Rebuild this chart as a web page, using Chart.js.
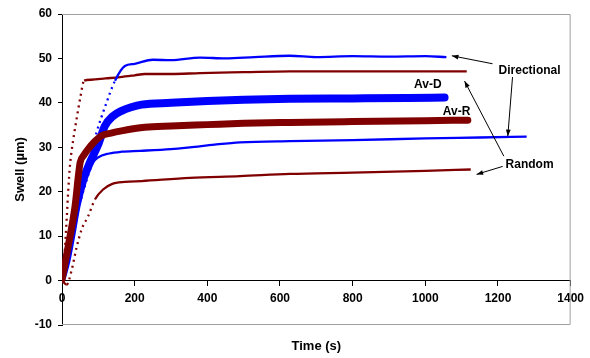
<!DOCTYPE html>
<html>
<head>
<meta charset="utf-8">
<script src="https://cdn.jsdelivr.net/npm/chart.js@4"></script>
<style>
  html, body { margin: 0; padding: 0; background: #fff; }
  #wrap { width: 590px; height: 358px; }
</style>
</head>
<body>
<div id="wrap"><canvas id="swellChart"></canvas></div>
<script>
// readings from the plot: time (s) and swell (um) for each sample
var dirTopTime  = [0, 20, 40, 60, 80, 95, 118, 146, 173, 200, 250, 300, 380, 450, 530, 627, 700, 800, 900, 1000, 1058];
var dirTopSwell = [0, 7, 15, 22, 28.5, 33.3, 39, 45, 48.3, 48.8, 49.7, 49.6, 50.2, 50, 50.3, 50.6, 50.3, 50.5, 50.4, 50.5, 50.3];

var ranTopTime  = [0, 5, 13, 17, 22, 27, 40, 50, 61, 80, 120, 160, 200, 228, 300, 380, 500, 627, 800, 1000, 1114];
var ranTopSwell = [0, 3.5, 14, 20, 26, 29.5, 36.3, 41, 45, 45.2, 45.5, 45.8, 46.2, 46.5, 46.5, 46.7, 46.9, 47.1, 47.1, 47.1, 47.1];

var avDTime  = [0, 13, 27, 40, 59, 77, 99, 118, 140, 164, 190, 219, 300, 400, 500, 627, 800, 950, 1053];
var avDSwell = [0.7, 4.7, 10.8, 16.8, 22.8, 26.6, 30.5, 34.8, 37, 38.2, 39, 39.6, 40, 40.4, 40.7, 40.9, 41, 41.1, 41.2];

var avRTime  = [0, 17, 36, 45, 50, 60, 72, 90, 109, 135, 164, 228, 300, 400, 500, 627, 800, 1000, 1117];
var avRSwell = [0.2, 7.7, 16.8, 23.5, 26.6, 28.2, 29.6, 31.3, 32.6, 33.2, 33.7, 34.5, 34.8, 35.1, 35.4, 35.6, 35.8, 36, 36.1];

var dirLowTime  = [0, 20, 40, 60, 85, 99, 130, 164, 215, 300, 352, 420, 490, 627, 800, 1000, 1150, 1279];
var dirLowSwell = [0, 7, 14.5, 20.5, 26.5, 27.7, 28.6, 29, 29.2, 29.6, 30, 30.6, 31.1, 31.4, 31.6, 32, 32.2, 32.4];

var ranLowTime  = [0, 13, 27, 40, 54, 72, 91, 113, 137, 173, 219, 352, 490, 627, 800, 1000, 1125];
var ranLowSwell = [0, -0.9, 2.5, 7.4, 11.5, 14.5, 18.3, 20.5, 21.7, 22.2, 22.4, 23.1, 23.5, 24, 24.3, 24.7, 25];

var xTicks = [0, 200, 400, 600, 800, 1000, 1200, 1400];
var yTicks = [-10, 0, 10, 20, 30, 40, 50, 60];

var BLUE = "#0000ff";
var RED = "#800000";
var FONT = "'Liberation Sans', Arial, sans-serif";

function pairs(t, v) {
    return t.map(function (x, i) { return { x: x, y: v[i] }; });
}

// sparse dots where the curve climbs fast, like the sampled markers
function steepDash(ctx) {
    var dx = Math.abs(ctx.p1.x - ctx.p0.x);
    var dy = Math.abs(ctx.p1.y - ctx.p0.y);
    return dy > dx * 1.6 ? [2, 4] : undefined;
}

function thin(data, color) {
    return {
        data: data,
        borderColor: color,
        backgroundColor: color,
        borderWidth: 2.3,
        pointRadius: 0,
        cubicInterpolationMode: "monotone",
        segment: { borderDash: steepDash }
    };
}

function thick(data, color, w) {
    return {
        data: data,
        borderColor: color,
        backgroundColor: color,
        borderWidth: w,
        pointRadius: 0,
        cubicInterpolationMode: "monotone",
        borderCapStyle: "round",
        borderJoinStyle: "round"
    };
}

// arrow / label notes in data coordinates
var notes = [
    { text: "Directional", x: 1287, y: 47.2 },
    { text: "Random", x: 1287, y: 26 },
    { text: "Av-D", x: 1007, y: 44.2 },
    { text: "Av-R", x: 1086, y: 38.1 }
];
var arrows = [
    { from: [1185, 48.8], to: [1073, 50.6] },
    { from: [1240, 45.8], to: [1227, 32.5] },
    { from: [1216, 28], to: [1108, 44.9] },
    { from: [1213, 25.7], to: [1141, 23.9] }
];

var decor = {
    id: "decor",
    afterDraw: function (chart) {
        var c = chart.ctx, a = chart.chartArea;
        var xs = chart.scales.x, ys = chart.scales.y;
        c.save();
        // grey plot frame (top, right, bottom)
        c.strokeStyle = "#a0a0a0";
        c.lineWidth = 1;
        c.beginPath();
        c.moveTo(a.left, a.top + 0.5);
        c.lineTo(a.right - 0.5, a.top + 0.5);
        c.lineTo(a.right - 0.5, a.bottom - 0.5);
        c.lineTo(a.left, a.bottom - 0.5);
        c.stroke();

        // arrows
        c.strokeStyle = "#000";
        c.fillStyle = "#000";
        arrows.forEach(function (ar) {
            var x0 = xs.getPixelForValue(ar.from[0]), y0 = ys.getPixelForValue(ar.from[1]);
            var x1 = xs.getPixelForValue(ar.to[0]), y1 = ys.getPixelForValue(ar.to[1]);
            c.beginPath();
            c.moveTo(x0, y0);
            c.lineTo(x1, y1);
            c.stroke();
            var ang = Math.atan2(y1 - y0, x1 - x0);
            c.beginPath();
            c.moveTo(x1, y1);
            c.lineTo(x1 - 7 * Math.cos(ang - 0.35), y1 - 7 * Math.sin(ang - 0.35));
            c.lineTo(x1 - 7 * Math.cos(ang + 0.35), y1 - 7 * Math.sin(ang + 0.35));
            c.closePath();
            c.fill();
        });

        c.font = "bold 12px " + FONT;
        c.textAlign = "center";
        c.textBaseline = "middle";
        notes.forEach(function (n) {
            c.fillText(n.text, xs.getPixelForValue(n.x), ys.getPixelForValue(n.y));
        });

        // axis titles
        c.font = "bold 13px " + FONT;
        c.fillText("Time (s)", (a.left + a.right) / 2, 346);
        c.translate(20, (a.top + a.bottom) / 2);
        c.rotate(-Math.PI / 2);
        c.fillText("Swell (\u00b5m)", 0, 0);
        c.restore();
    }
};

document.addEventListener("DOMContentLoaded", function () {
    var ctx = document.getElementById("swellChart").getContext("2d");
    var tickFont = { family: FONT, size: 12, weight: "bold" };
    var plain = function (v) { return String(v); };
    new Chart(ctx, {
        type: "line",
        data: {
            datasets: [
                thick(pairs(avRTime, avRSwell), RED, 7),
                thick(pairs(avDTime, avDSwell), BLUE, 8),
                thin(pairs(dirTopTime, dirTopSwell), BLUE),
                thin(pairs(ranTopTime, ranTopSwell), RED),
                thin(pairs(dirLowTime, dirLowSwell), BLUE),
                thin(pairs(ranLowTime, ranLowSwell), RED)
            ]
        },
        options: {
            responsive: true,
            maintainAspectRatio: false,
            animation: false,
            layout: { padding: { left: 0, right: 19, top: 14, bottom: 33 } },
            plugins: { legend: { display: false }, tooltip: { enabled: false } },
            scales: {
                x: {
                    type: "linear",
                    position: { y: 0 },
                    min: 0,
                    max: 1400,
                    afterBuildTicks: function (s) { s.ticks = xTicks.map(function (v) { return { value: v }; }); },
                    ticks: { color: "#000", font: tickFont, padding: 6, maxRotation: 0, callback: plain },
                    grid: { drawOnChartArea: false, drawTicks: true, tickLength: 5, color: "#000" },
                    border: { color: "#000", width: 1 }
                },
                y: {
                    type: "linear",
                    min: -10,
                    max: 60,
                    afterBuildTicks: function (s) { s.ticks = yTicks.map(function (v) { return { value: v }; }); },
                    afterFit: function (s) { s.width = 62; },
                    ticks: { color: "#000", font: tickFont, padding: 6, callback: plain },
                    grid: { drawOnChartArea: false, drawTicks: true, tickLength: 4, color: "#000" },
                    border: { color: "#000", width: 1 }
                }
            }
        },
        plugins: [decor]
    });
});
</script>
</body>
</html>
